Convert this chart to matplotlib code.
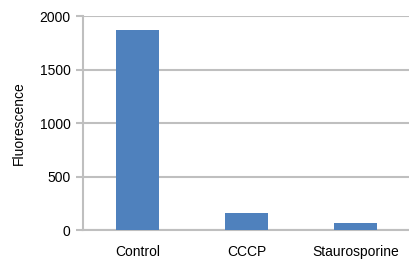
import matplotlib
matplotlib.use("Agg")
import matplotlib.pyplot as plt

categories = ["Control", "CCCP", "Staurosporine"]
fluorescence = [1870, 162, 62]
yticks = [0, 500, 1000, 1500, 2000]

plt.rcParams["font.family"] = ["Liberation Sans", "DejaVu Sans"]

fig = plt.figure(figsize=(4.1, 2.63), dpi=100)
ax = fig.add_axes([83 / 410, 1 - 230 / 263, 327 / 410, 214 / 263])
ax.bar(range(len(categories)), fluorescence, width=0.4, color="#4f81bd", zorder=3)
ax.set_xlim(-0.5, len(categories) - 0.5)
ax.set_ylim(0, 2000)
ax.set_yticks(yticks)
ax.set_xticks(range(len(categories)))
ax.set_xticklabels(categories)
ax.set_ylabel("Fluorescence", fontsize=10, labelpad=10)

# light gray horizontal gridlines behind the bars
ax.yaxis.grid(True, color="#bfbfbf", linewidth=1.5)
ax.set_axisbelow(True)

for side in ("top", "right"):
    ax.spines[side].set_visible(False)
for side in ("left", "bottom"):
    ax.spines[side].set_color("#bfbfbf")
    ax.spines[side].set_linewidth(1.5)
ax.tick_params(axis="y", color="#bfbfbf", width=1.5, length=5, labelsize=10, pad=4)
ax.tick_params(axis="x", length=0, labelsize=10, pad=11)

fig.savefig("out.png", dpi=100)
